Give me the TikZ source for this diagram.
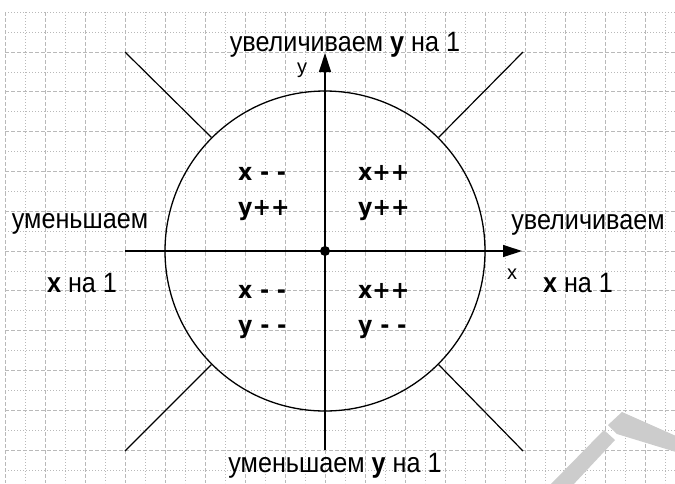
\documentclass[tikz,border=0pt]{standalone}
\usepackage{fontspec}
\setmainfont{Liberation Sans}
\newfontfamily\lblfont[FakeStretch=0.9]{Liberation Sans}
\newfontfamily\quadfont[FakeStretch=0.92]{DejaVu Sans}
\usetikzlibrary{arrows.meta}
\definecolor{gridc}{RGB}{185,185,185}
\definecolor{wmark}{RGB}{204,204,204}
\begin{document}
\begin{tikzpicture}[x=1pt,y=-1pt,
  gmaj/.style={gridc, line width=0.9pt, dash pattern=on 4pt off 2pt},
  gmin/.style={gridc, line width=0.8pt, dash pattern=on 1pt off 2pt},
  axisline/.style={line width=1.3pt, -{Triangle[length=19pt,width=12pt]}},
  ray/.style={line width=1.2pt},
  lbl/.style={font=\lblfont\fontsize{28}{28}\selectfont, inner sep=0pt, anchor=base},
  qd/.style={font=\quadfont\bfseries\fontsize{24}{24}\selectfont, inner sep=0pt, anchor=base west},
  axl/.style={font=\fontsize{20}{20}\selectfont, inner sep=0pt, anchor=base},
]
\useasboundingbox (0,0) rectangle (675,483);
\fill[white] (0,0) rectangle (675,483);
% grid
\foreach \x in {5,45,...,645} \draw[gmaj] (\x,12) -- (\x,483);
\foreach \x in {25,65,...,665} \draw[gmin] (\x,12) -- (\x,483);
\foreach \j in {2,4,...,22} \draw[gmaj] (5,{251+19.9*(\j-12)}) -- (675,{251+19.9*(\j-12)});
\foreach \j in {0,1,3,...,23} \draw[gmin] (5,{251+19.9*(\j-12)}) -- (675,{251+19.9*(\j-12)});
% watermark
\fill[wmark] (549,486) -- (604,430) -- (615,440) -- (572,486) -- cycle;
\fill[wmark] (608,425) -- (622,412) -- (676,436) -- (676,452) -- (617,434) -- cycle;
% circle and centre
\node[circle, draw, line width=1.3pt, minimum size=320pt, inner sep=0pt] (circ) at (325,251) {};
\coordinate (tl) at (125,52);
\coordinate (tr) at (523,52);
\coordinate (bl) at (125,451);
\coordinate (br) at (523,451);
\draw[ray] (circ.135) -- (tl);
\draw[ray] (circ.45) -- (tr);
\draw[ray] (circ.225) -- (bl);
\draw[ray] (circ.315) -- (br);
% axes
\coordinate (xs) at (125,251);
\coordinate (xe) at (522,251);
\coordinate (ys) at (325,450);
\coordinate (ye) at (325,53);
\draw[axisline] (xs) -- (xe);
\draw[axisline] (ys) -- (ye);
\node[circle, fill, minimum size=10pt, inner sep=0pt] (o) at (325,251) {};
\node[axl] (ylab) at (302,73) {y};
\node[axl] (xlab) at (512,279) {x};
% side labels
\node[lbl] (top) at (345,51) {увеличиваем \textbf{у} на 1};
\node[lbl] (bot) at (335,472) {уменьшаем \textbf{у} на 1};
\node[lbl] (lt) at (80,228) {уменьшаем};
\node[lbl] (lb) at (82,292) {\textbf{x} на 1};
\node[lbl] (rt) at (588,229) {увеличиваем};
\node[lbl] (rb) at (578,292) {\textbf{x} на 1};
% quadrant labels
\node[qd] (q1a) at (238,180) {x - -};
\node[qd] (q1b) at (238,215) {y++};
\node[qd] (q2a) at (358,180) {x++};
\node[qd] (q2b) at (358,215) {y++};
\node[qd] (q3a) at (238,298) {x - -};
\node[qd] (q3b) at (238,333) {y - -};
\node[qd] (q4a) at (358,298) {x++};
\node[qd] (q4b) at (358,333) {y - -};
\end{tikzpicture}
\end{document}
